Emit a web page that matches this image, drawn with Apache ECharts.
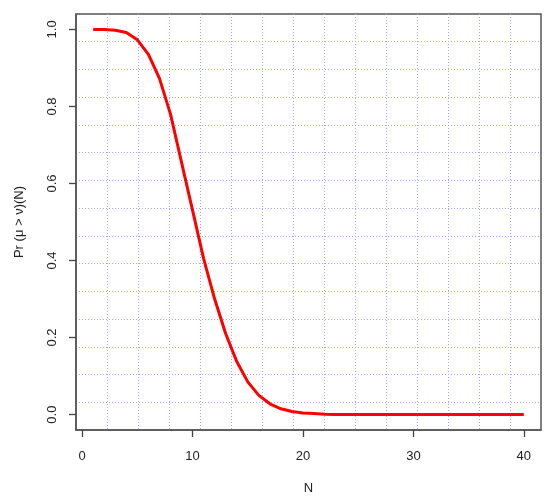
<!DOCTYPE html>
<html>
<head>
<meta charset="utf-8">
<script src="https://cdn.jsdelivr.net/npm/echarts@6/dist/echarts.min.js"></script>
<style>html,body{margin:0;padding:0;background:#fff;}#chart{width:550px;height:500px;}</style>
</head>
<body>
<div id="chart"></div>
<script>
const nValues = [1,2,3,4,5,6,7,8,9,10,11,12,13,14,15,16,17,18,19,20,21,22,23,24,25,26,27,28,29,30,31,32,33,34,35,36,37,38,39,40];
const probValues = [1.0,1.0,0.998,0.992,0.973,0.935,0.873,0.780,0.655,0.530,0.405,0.300,0.210,0.138,0.085,0.050,0.028,0.015,0.008,0.004,0.003,0.001,0,0,0,0,0,0,0,0,0,0,0,0,0,0,0,0,0,0];
const xTicks = [0,10,20,30,40];
const yTicks = [0,0.2,0.4,0.6,0.8,1.0];
const xName = 'N';
const yName = 'Pr (\u03bc > \u03bd)(N)';

const font = 'Liberation Sans, Arial, Helvetica, sans-serif';
const chart = echarts.init(document.getElementById('chart'), null, {renderer:'canvas'});
const pairs = nValues.map((n,i)=>[n, probValues[i]]);
const gridLineStyle = {color:'#a4a4ff', type:[1,2], width:1};
chart.setOption({
  animation:false,
  backgroundColor:'#fff',
  grid:{left:76, top:14, width:465, height:416, show:true, borderColor:'#555', borderWidth:1.5, backgroundColor:'transparent'},
  xAxis:[
    {type:'value', min:-0.56, max:41.56, position:'bottom',
     axisLine:{show:true, onZero:false, lineStyle:{color:'#555', width:1.5}},
     axisTick:{show:true, length:7, inside:false, customValues:xTicks, lineStyle:{color:'#444', width:1.3}},
     axisLabel:{customValues:xTicks, margin:20, fontSize:13, color:'#222', fontFamily:font},
     splitLine:{show:false},
     name:xName, nameLocation:'middle', nameGap:52, nameTextStyle:{fontSize:13, color:'#222', fontFamily:font}},
    {type:'value', min:0, max:15, interval:1, position:'top',
     axisLine:{show:false, onZero:false}, axisTick:{show:false}, axisLabel:{show:false},
     splitLine:{show:true, showMinLine:false, showMaxLine:false, lineStyle:gridLineStyle}}
  ],
  yAxis:[
    {type:'value', min:-0.04, max:1.04, position:'left',
     axisLine:{show:true, onZero:false, lineStyle:{color:'#555', width:1.5}},
     axisTick:{show:true, length:7, inside:false, customValues:yTicks, lineStyle:{color:'#444', width:1.3}},
     axisLabel:{customValues:yTicks, rotate:90, margin:17, fontSize:13, color:'#222', fontFamily:font,
       formatter:v=>v.toFixed(1)},
     splitLine:{show:false},
     name:yName, nameLocation:'middle', nameGap:50, nameRotate:90, nameTextStyle:{fontSize:13, color:'#222', fontFamily:font}},
    {type:'value', min:0, max:15, interval:1, position:'right',
     axisLine:{show:false, onZero:false}, axisTick:{show:false}, axisLabel:{show:false},
     splitLine:{show:true, showMinLine:false, showMaxLine:false, lineStyle:gridLineStyle}}
  ],
  series:[
    {type:'line', xAxisIndex:0, yAxisIndex:0, data:pairs, symbol:'none', showSymbol:false,
     lineStyle:{color:'#ff0000', width:3}, z:5}
  ]
});
</script>
</body>
</html>
